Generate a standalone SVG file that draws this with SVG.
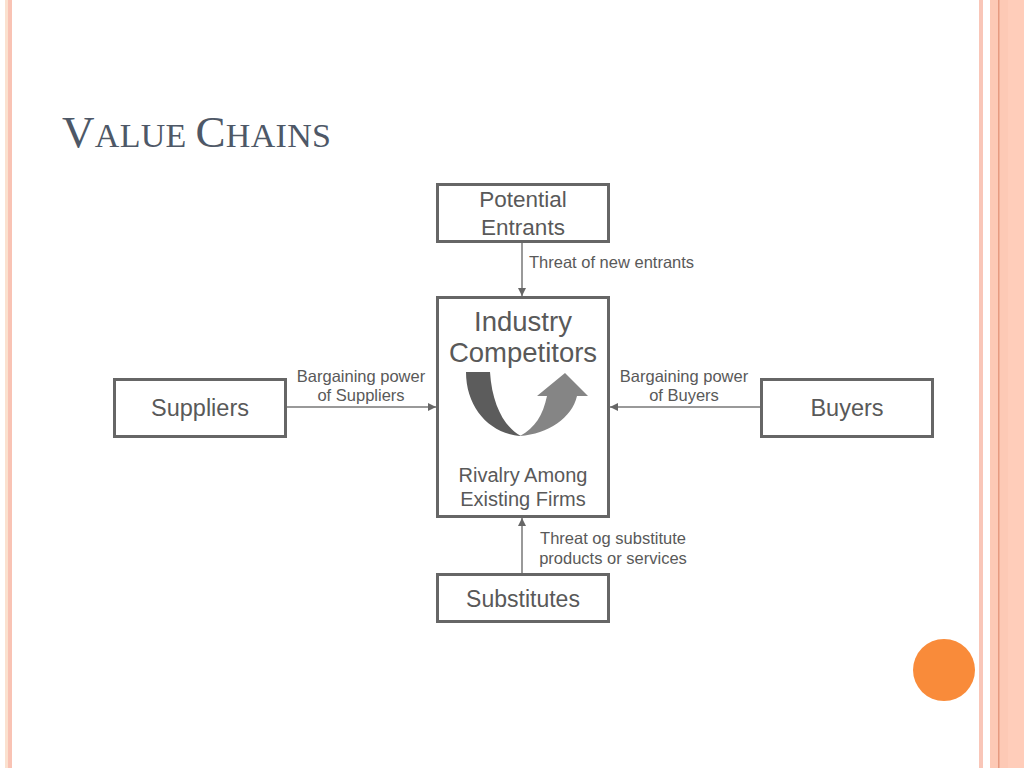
<svg xmlns="http://www.w3.org/2000/svg" width="1024" height="768" viewBox="0 0 1024 768">
<defs>
<style>
.box{fill:#fff;stroke:#666;stroke-width:3}
.t{font-family:"Liberation Sans",Arial,sans-serif;fill:#595959;text-anchor:middle}
.lbl{font-family:"Liberation Sans",Arial,sans-serif;fill:#595959;font-size:16.5px}
.conn{stroke:#777;stroke-width:1.5;fill:none}
</style>
<marker id="ah" viewBox="0 0 10 10" refX="10" refY="5" markerWidth="8" markerHeight="8" markerUnits="userSpaceOnUse" orient="auto">
<path d="M0,0 L10,5 L0,10 z" fill="#666"/>
</marker>
</defs>
<rect width="1024" height="768" fill="#fff"/>
<!-- side decorations -->
<rect x="5" y="0" width="3" height="768" fill="#FBE1CF"/>
<rect x="8" y="0" width="4" height="768" fill="#F9C3B4"/>
<rect x="979" y="0" width="4" height="768" fill="#F9C6B8"/>
<rect x="990" y="0" width="34" height="768" fill="#FDC9B5"/>
<rect x="998" y="0" width="1.5" height="768" fill="#E69A80"/>
<rect x="1008" y="0" width="16" height="768" fill="#FFCDBA"/>
<circle cx="944" cy="670" r="31" fill="#F98B3A"/>
<!-- title -->
<text x="62" y="147" font-family="'Liberation Serif','Times New Roman',serif" fill="#4E5867" font-size="34" letter-spacing="0.3"><tspan font-size="45">V</tspan>ALUE <tspan font-size="45">C</tspan>HAINS</text>
<!-- connectors -->
<g id="connectors">
<line class="conn" x1="522" y1="243" x2="522" y2="296" marker-end="url(#ah)"/>
<line class="conn" x1="287" y1="407" x2="436" y2="407" marker-end="url(#ah)"/>
<line class="conn" x1="760" y1="407" x2="610" y2="407" marker-end="url(#ah)"/>
<line class="conn" x1="522" y1="573" x2="522" y2="518" marker-end="url(#ah)"/>
<text class="lbl" x="529" y="268">Threat of new entrants</text>
<text class="lbl" x="361" y="382" text-anchor="middle">Bargaining power</text>
<text class="lbl" x="361" y="401" text-anchor="middle">of Suppliers</text>
<text class="lbl" x="684" y="382" text-anchor="middle">Bargaining power</text>
<text class="lbl" x="684" y="401" text-anchor="middle">of Buyers</text>
<text class="lbl" x="613" y="544" text-anchor="middle">Threat og substitute</text>
<text class="lbl" x="613" y="564" text-anchor="middle">products or services</text>
</g>
<g id="potential-entrants">
<rect class="box" x="437.5" y="184.5" width="171" height="57"/>
<text class="t" x="523" y="207" font-size="22.5">Potential</text>
<text class="t" x="523" y="235" font-size="22.5">Entrants</text>
</g>
<g id="industry-competitors">
<rect class="box" x="437.5" y="297.5" width="171" height="219"/>
<text class="t" x="523" y="331" font-size="27.5">Industry</text>
<text class="t" x="523" y="362" font-size="27.5">Competitors</text>
<path d="M466,372 L490,372 C492,405 505,428 521,436 C490,434 466,408 466,372 Z" fill="#5c5c5c"/>
<path d="M520,436 C548,434 572,418 577,396 L588,396 L565,373 L537,396 L547,396 C543,415 535,428 520,436 Z" fill="#858585"/>
<text class="t" x="523" y="482" font-size="20">Rivalry Among</text>
<text class="t" x="523" y="506" font-size="20">Existing Firms</text>
</g>
<g id="suppliers">
<rect class="box" x="114.5" y="379.5" width="171" height="57"/>
<text class="t" x="200" y="416" font-size="23.5">Suppliers</text>
</g>
<g id="buyers">
<rect class="box" x="761.5" y="379.5" width="171" height="57"/>
<text class="t" x="847" y="416" font-size="23.5">Buyers</text>
</g>
<g id="substitutes">
<rect class="box" x="437.5" y="574.5" width="171" height="47"/>
<text class="t" x="523" y="607" font-size="23">Substitutes</text>
</g>
</svg>
